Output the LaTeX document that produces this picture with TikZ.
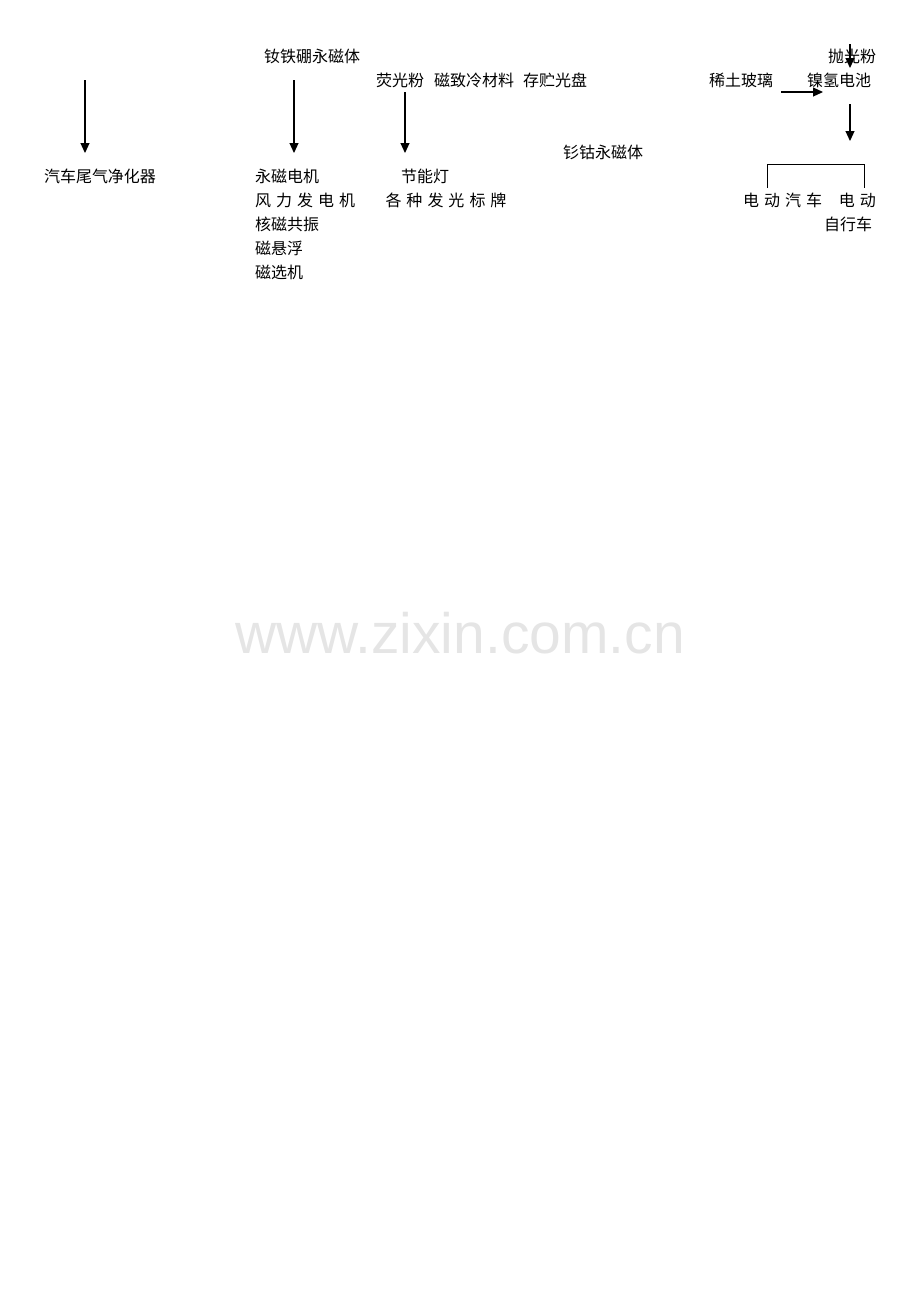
\documentclass[tikz,border=0pt]{standalone}
\usepackage{fontspec}
\usepackage{tikz}
\usetikzlibrary{arrows.meta, positioning}
\newfontfamily\cjk{Noto Sans CJK SC}
\setsansfont{Liberation Sans}
\definecolor{markgray}{RGB}{229,229,229}
\newcommand{\cjkgap}{\hspace{5pt}}

\begin{document}
\begin{tikzpicture}[
    x=1pt, y=-1pt,
    label/.style={font=\cjk\fontsize{16}{18}\selectfont, inner sep=0pt},
    arrow/.style={-{Triangle[length=10pt, width=9pt]}, line width=1.1pt},
    link/.style={line width=0.9pt}
]
    \useasboundingbox (0,0) rectangle (920,1302);

    % materials
    \node[label] (ndfeb) at (312,56) {钕铁硼永磁体};
    \node[label] (phos) at (400,80) {荧光粉};
    \node[label] (cool) at (474,80) {磁致冷材料};
    \node[label] (disk) at (555,80) {存贮光盘};
    \node[label] (glass) at (741,80) {稀土玻璃};
    \node[label] (polish) at (852,56) {抛光粉};
    \node[label] (nimh) at (839,80) {镍氢电池};
    \node[label] (smco) at (603,152) {钐钴永磁体};

    % applications
    \node[label] (exhaust) at (100,176) {汽车尾气净化器};
    \node[label, anchor=west] (motor) at (255,176) {永磁电机};
    \node[label, anchor=west] (wind) at (255,200) {风\cjkgap 力\cjkgap 发\cjkgap 电\cjkgap 机};
    \node[label, anchor=west] (mri) at (255,224) {核磁共振};
    \node[label, anchor=west] (maglev) at (255,248) {磁悬浮};
    \node[label, anchor=west] (separator) at (255,272) {磁选机};
    \node[label] (lamp) at (425,176) {节能灯};
    \node[label] (signs) at (446,200) {各\cjkgap 种\cjkgap 发\cjkgap 光\cjkgap 标\cjkgap 牌};
    \node[label, anchor=west] (ecar) at (743,200) {电\cjkgap 动\cjkgap 汽\cjkgap 车};
    \node[label, anchor=east] (ebike1) at (876,200) {电\cjkgap 动};
    \node[label] (ebike2) at (848,224) {自行车};

    % arrow ends
    \coordinate (a1s) at (85,80);   \coordinate (a1e) at (85,153);
    \coordinate (a2s) at (294,80);  \coordinate (a2e) at (294,153);
    \coordinate (a3s) at (405,92);  \coordinate (a3e) at (405,153);
    \coordinate (a4s) at (850,44);  \coordinate (a4e) at (850,68);
    \coordinate (a5s) at (781,92);  \coordinate (a5e) at (823,92);
    \coordinate (a6s) at (850,104); \coordinate (a6e) at (850,141);
    \coordinate (bl) at (767,188);  \coordinate (br) at (864,188);

    \draw[arrow] (a1s) -- (a1e);
    \draw[arrow] (a2s) -- (a2e);
    \draw[arrow] (a3s) -- (a3e);
    \draw[arrow] (a4s) -- (a4e);
    \draw[arrow] (a5s) -- (a5e);
    \draw[arrow] (a6s) -- (a6e);
    \draw[link] (bl) -- ++(0,-24) -| (br);

    \node[font=\sffamily\fontsize{57}{60}\selectfont, text=markgray, inner sep=0pt] (mark) at (460,633) {www.zixin.com.cn};
\end{tikzpicture}
\end{document}
